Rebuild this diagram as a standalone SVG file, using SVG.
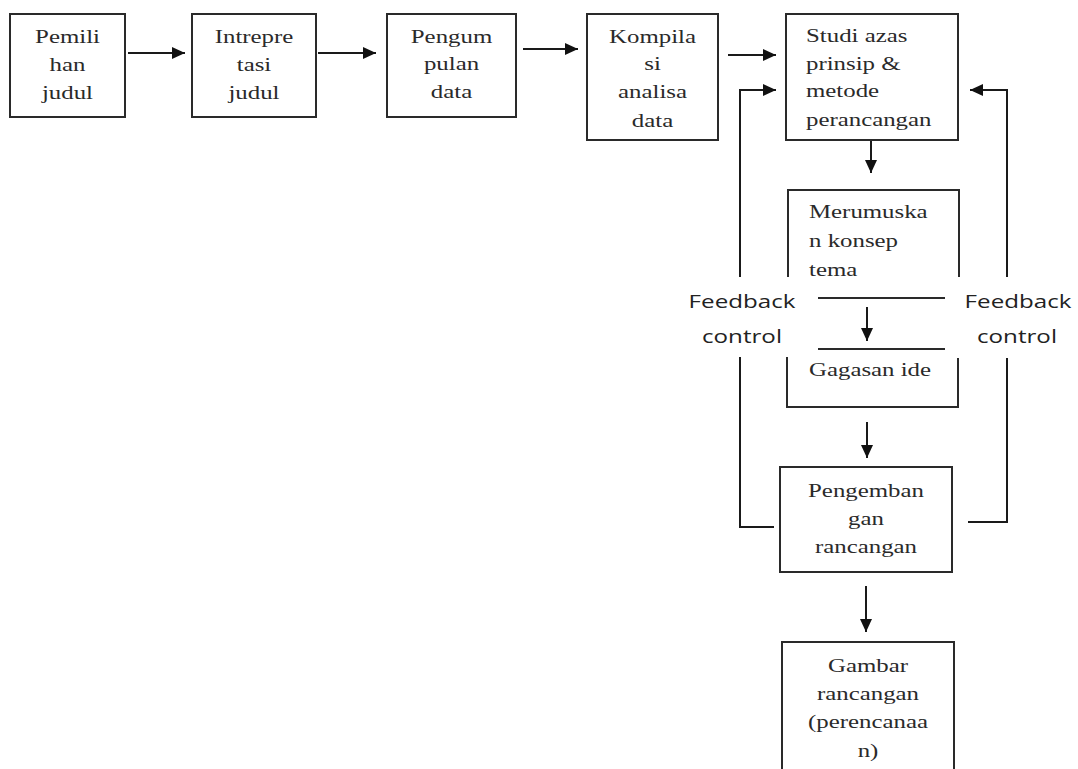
<svg xmlns="http://www.w3.org/2000/svg" width="1078" height="769" viewBox="0 0 1078 769">
<defs>
<style>
.box{fill:none;stroke:#2a2a2a;stroke-width:2}
.ln{fill:none;stroke:#1a1a1a;stroke-width:2}
.t{font-family:"Liberation Serif","Times New Roman",serif;font-size:18px;fill:#2a2a2a}
.c{text-anchor:middle}
.s{font-family:"Open Sans","Liberation Sans",sans-serif;font-size:17.5px;fill:#222;text-anchor:middle}
</style>
<marker id="ah" markerUnits="userSpaceOnUse" markerWidth="14" markerHeight="12" refX="13" refY="6" orient="auto">
<path d="M0,0 L13,6 L0,12 Z" fill="#111"/>
</marker>
</defs>
<rect width="1078" height="769" fill="#fff"/>

<g id="connectors">
<line class="ln" x1="128" y1="53" x2="185" y2="53" marker-end="url(#ah)"/>
<line class="ln" x1="318" y1="53" x2="376" y2="53" marker-end="url(#ah)"/>
<line class="ln" x1="523" y1="49" x2="578" y2="49" marker-end="url(#ah)"/>
<line class="ln" x1="728" y1="55" x2="776" y2="55" marker-end="url(#ah)"/>
<line class="ln" x1="871" y1="140" x2="871" y2="173" marker-end="url(#ah)"/>
<line class="ln" x1="867" y1="307" x2="867" y2="341" marker-end="url(#ah)"/>
<line class="ln" x1="867" y1="422" x2="867" y2="458" marker-end="url(#ah)"/>
<line class="ln" x1="866" y1="586" x2="866" y2="632" marker-end="url(#ah)"/>
<polyline class="ln" points="774,527 740,527 740,357"/>
<polyline class="ln" points="740,277 740,90 776,90" marker-end="url(#ah)"/>
<polyline class="ln" points="968,522 1007,522 1007,358"/>
<polyline class="ln" points="1007,277 1007,90 970,90" marker-end="url(#ah)"/>
<text class="s" transform="translate(742 308) scale(1.38 1)">Feedback</text>
<text class="s" transform="translate(742 343) scale(1.38 1)">control</text>
<text class="s" transform="translate(1018 308) scale(1.38 1)">Feedback</text>
<text class="s" transform="translate(1017 343) scale(1.38 1)">control</text>
</g>

<g id="node-pemilihan">
<rect class="box" x="10" y="14" width="115" height="103"/>
<text class="t c" transform="translate(67.5 43) scale(1.38 1)">Pemili</text>
<text class="t c" transform="translate(67.5 71) scale(1.38 1)">han</text>
<text class="t c" transform="translate(67.5 99) scale(1.38 1)">judul</text>
</g>

<g id="node-intrepretasi">
<rect class="box" x="192" y="14" width="124" height="103"/>
<text class="t c" transform="translate(254 43) scale(1.38 1)">Intrepre</text>
<text class="t c" transform="translate(254 71) scale(1.38 1)">tasi</text>
<text class="t c" transform="translate(254 99) scale(1.38 1)">judul</text>
</g>

<g id="node-pengumpulan">
<rect class="box" x="387" y="14" width="129" height="103"/>
<text class="t c" transform="translate(451.5 43) scale(1.38 1)">Pengum</text>
<text class="t c" transform="translate(451.5 70) scale(1.38 1)">pulan</text>
<text class="t c" transform="translate(451.5 98) scale(1.38 1)">data</text>
</g>

<g id="node-kompilasi">
<rect class="box" x="587" y="14" width="131" height="126"/>
<text class="t c" transform="translate(652.5 43) scale(1.38 1)">Kompila</text>
<text class="t c" transform="translate(652.5 70) scale(1.38 1)">si</text>
<text class="t c" transform="translate(652.5 98) scale(1.38 1)">analisa</text>
<text class="t c" transform="translate(652.5 127) scale(1.38 1)">data</text>
</g>

<g id="node-studi">
<rect class="box" x="786" y="14" width="172" height="126"/>
<text class="t" transform="translate(806 42) scale(1.38 1)">Studi azas</text>
<text class="t" transform="translate(806 70) scale(1.38 1)">prinsip &amp;</text>
<text class="t" transform="translate(806 97) scale(1.38 1)">metode</text>
<text class="t" transform="translate(806 126) scale(1.38 1)">perancangan</text>
</g>

<g id="node-konsep">
<polyline class="box" points="788,277 788,190 959,190 959,277"/>
<line class="box" x1="818" y1="298" x2="945" y2="298"/>
<line class="box" x1="818" y1="349" x2="945" y2="349"/>
<polyline class="box" points="787,357 787,407 958,407 958,358"/>
<text class="t" transform="translate(809 218) scale(1.38 1)">Merumuska</text>
<text class="t" transform="translate(809 247) scale(1.38 1)">n konsep</text>
<text class="t" transform="translate(809 276) scale(1.38 1)">tema</text>
<text class="t" transform="translate(809 376) scale(1.38 1)">Gagasan ide</text>
</g>

<g id="node-pengembangan">
<rect class="box" x="780" y="467" width="172" height="105"/>
<text class="t c" transform="translate(866 497) scale(1.38 1)">Pengemban</text>
<text class="t c" transform="translate(866 525) scale(1.38 1)">gan</text>
<text class="t c" transform="translate(866 553) scale(1.38 1)">rancangan</text>
</g>

<g id="node-gambar">
<rect class="box" x="782" y="642" width="172" height="140"/>
<text class="t c" transform="translate(868 672) scale(1.38 1)">Gambar</text>
<text class="t c" transform="translate(868 700) scale(1.38 1)">rancangan</text>
<text class="t c" transform="translate(868 728) scale(1.38 1)">(perencanaa</text>
<text class="t c" transform="translate(868 757) scale(1.38 1)">n)</text>
</g>
</svg>
